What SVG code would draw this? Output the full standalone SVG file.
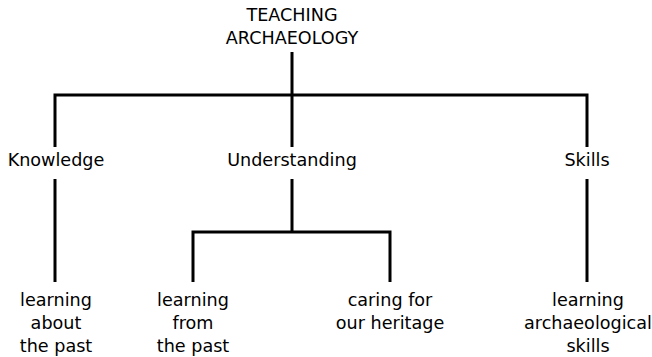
<svg xmlns="http://www.w3.org/2000/svg" width="652" height="357" viewBox="0 0 652 357">
<style>
text{font-family:"DejaVu Sans",Verdana,sans-serif;font-size:17.6px;fill:#000;text-anchor:middle}
.c{stroke:#000;stroke-width:3;fill:none;stroke-linecap:butt;stroke-linejoin:miter}
</style>
<rect width="652" height="357" fill="#fff"/>
<g id="connectors">
<path class="c" d="M292 52V147M55 147V95H587V147M55 179V282M292 179V232M193 282V232H390V282M587 179V282"/>
</g>
<g id="root"><text x="292" y="21">TEACHING</text><text x="292" y="44">ARCHAEOLOGY</text></g>
<g id="knowledge"><text x="56" y="166">Knowledge</text></g>
<g id="understanding"><text x="292" y="166">Understanding</text></g>
<g id="skills"><text x="587" y="166">Skills</text></g>
<g id="learning-about"><text x="56" y="306">learning</text><text x="56" y="329">about</text><text x="56" y="352">the past</text></g>
<g id="learning-from"><text x="193" y="306">learning</text><text x="193" y="329">from</text><text x="193" y="352">the past</text></g>
<g id="caring"><text x="390" y="306">caring for</text><text x="390" y="329">our heritage</text></g>
<g id="learning-skills"><text x="588" y="306">learning</text><text x="588" y="329">archaeological</text><text x="588" y="352">skills</text></g>
</svg>
